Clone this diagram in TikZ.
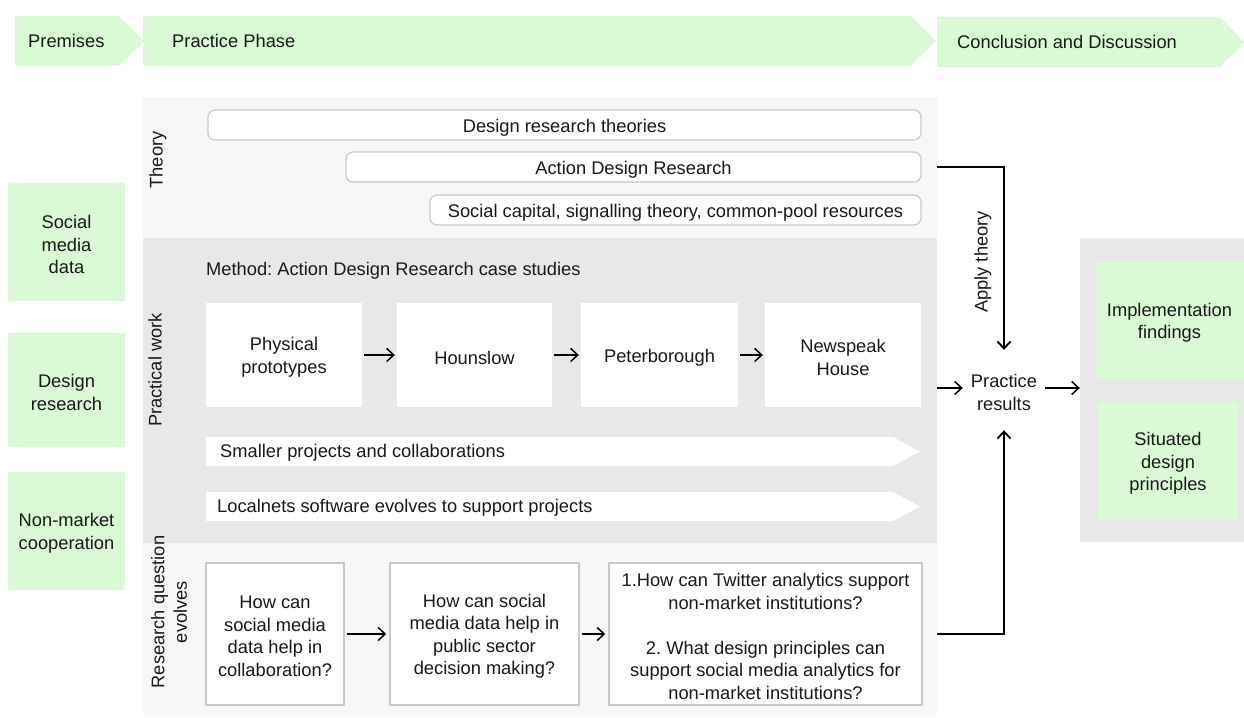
\documentclass[tikz,border=0pt]{standalone}
\usepackage{fontspec}
\setmainfont{Liberation Sans}
\usetikzlibrary{arrows.meta}
\definecolor{pgreen}{RGB}{218,250,214}
\definecolor{lightpanel}{RGB}{247,247,247}
\definecolor{midpanel}{RGB}{232,232,232}
\definecolor{boxline}{RGB}{200,200,200}
\definecolor{txt}{RGB}{25,25,25}
\frenchspacing
\begin{document}
\begin{tikzpicture}[x=1pt,y=-1pt,
  every node/.style={font=\fontsize{18.3}{22.5}\selectfont, text=txt, inner sep=0pt},
  txtin/.style={label={[align=center, yshift=-2.5pt]center:{#1}}},
  greenbox/.style={fill=pgreen},
  roundbox/.style={fill=white, draw=boxline, line width=1.2pt, rounded corners=7pt},
  workbox/.style={fill=white},
  qbox/.style={fill=white, draw=boxline, line width=1.5pt},
  sidelabel/.style={rotate=90, align=center},
  arr/.style={line width=1.5pt, -{Straight Barb[length=7pt,width=13pt]}},
  link/.style={line width=1.8pt, -{Straight Barb[length=7pt,width=13pt]}},
]
\useasboundingbox (0,0) rectangle (1244,717);

% top banners
\fill[pgreen] (15,16) -- (119,16) -- (144,41) -- (119,66) -- (15,66) -- cycle;
\fill[pgreen] (143,16) -- (910,16) -- (936,41) -- (910,66) -- (143,66) -- cycle;
\fill[pgreen] (937,17) -- (1220,17) -- (1244,42) -- (1220,67) -- (937,67) -- cycle;
\node[anchor=west] (premises) at (28,41) {Premises};
\node[anchor=west] (phase) at (172,41) {Practice Phase};
\node[anchor=west] (concl) at (957,42) {Conclusion and Discussion};

% panels
\node[fill=lightpanel, minimum width=794, minimum height=141] (thpanel) at (540,167.5) {};
\node[fill=midpanel, minimum width=794, minimum height=305] (pwpanel) at (540,390.5) {};
\node[fill=lightpanel, minimum width=794, minimum height=174] (rqpanel) at (540,630) {};
\node[fill=midpanel, minimum width=164, minimum height=304] (rpanel) at (1162,390) {};

% premises boxes
\node[greenbox, minimum width=117, minimum height=118, txtin={Social\\media\\data}] (smd) at (66.5,242) {};
\node[greenbox, minimum width=117, minimum height=114, txtin={Design\\research}] (dr) at (66.5,390) {};
\node[greenbox, minimum width=117, minimum height=118, txtin={Non-market\\cooperation}] (nmc) at (66.5,531) {};

% theory
\node[sidelabel] (thlabel) at (158,160) {Theory};
\node[roundbox, minimum width=713, minimum height=30, txtin={Design research theories}] (drt) at (564.5,125) {};
\node[roundbox, minimum width=575, minimum height=30, txtin={Action Design Research}] (adr) at (633.5,167) {};
\node[roundbox, minimum width=491, minimum height=30, txtin={Social capital, signalling theory, common-pool resources}] (sc) at (675.5,210) {};

% practical work
\node[sidelabel] (pwlabel) at (155,370) {Practical work};
\node[anchor=west] (method) at (206,271) {Method: Action Design Research case studies};
\node[workbox, minimum width=156, minimum height=104, txtin={Physical\\prototypes}] (pp) at (284,355) {};
\node[workbox, minimum width=155, minimum height=104, txtin={Hounslow}] (hou) at (474.5,355) {};
\node[workbox, minimum width=157, minimum height=104, txtin={Peterborough}] (pet) at (659.5,355) {};
\node[workbox, minimum width=156, minimum height=104, txtin={Newspeak\\House}] (nh) at (843,355) {};
\draw[arr, shorten >=2pt, shorten <=2pt] (pp) -- (hou);
\draw[arr, shorten >=2pt, shorten <=2pt] (hou) -- (pet);
\draw[arr, shorten >=2pt, shorten <=2pt] (pet) -- (nh);

\fill[white] (206,437) -- (893,437) -- (920,451.5) -- (893,466) -- (206,466) -- cycle;
\node[anchor=west] (smaller) at (220,452.5) {Smaller projects and collaborations};
\fill[white] (206,492) -- (893,492) -- (920,506.5) -- (893,521) -- (206,521) -- cycle;
\node[anchor=west] (localnets) at (217,507.5) {Localnets software evolves to support projects};

% research question
\node[sidelabel] (rqlabel) at (169,612) {Research question\\evolves};
\node[qbox, minimum width=138, minimum height=142, txtin={How can\\social media\\data help in\\collaboration?}] (q1) at (275,634) {};
\node[qbox, minimum width=189, minimum height=142, txtin={How can social\\media data help in\\public sector\\decision making?}] (q2) at (484.5,634) {};
\node[qbox, minimum width=313, minimum height=142, txtin={1.How can Twitter analytics support\\non-market institutions?\\[22.5pt]2. What design principles can\\support social media analytics for\\non-market institutions?}] (q3) at (765.5,634) {};
\draw[arr, shorten >=3pt, shorten <=2pt] (q1) -- (q2);
\draw[arr, shorten >=3pt, shorten <=2pt] (q2) -- (q3);

% practice results
\node[minimum width=82, minimum height=80, txtin={Practice\\results}] (pres) at (1004,390) {};
\node[sidelabel] (apply) at (983,262) {Apply theory};
\draw[link] (thpanel.east |- adr) -| (pres.north);
\draw[link] (rqpanel.east |- q3) -| (pres.south);
\draw[arr] (pwpanel.east |- 0,388) -- (pres.west |- 0,388);
\draw[arr] (pres.east |- 0,388) -- (rpanel.west |- 0,388);

% conclusions
\node[greenbox, minimum width=149, minimum height=118, txtin={Implementation\\findings}] (impl) at (1169.5,320.5) {};
\node[greenbox, minimum width=140, minimum height=118, txtin={Situated\\design\\principles}] (sdp) at (1168,461) {};
\end{tikzpicture}
\end{document}
